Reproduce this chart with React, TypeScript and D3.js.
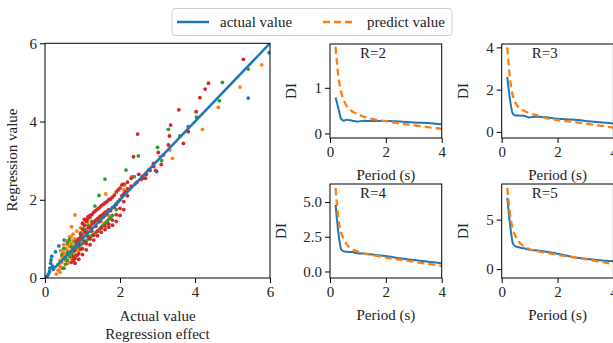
import React, { useEffect, useRef } from "react";
import * as d3 from "d3";

const W = 613;
const H = 343;
const FONT = "'Liberation Serif', 'Times New Roman', serif";
const BLUE = "#1f77b4";
const ORANGE = "#ff7f0e";
const GREEN = "#2ca02c";
const RED = "#d62728";

// scatter: [actual, regression]
const scatterBlue: [number, number][] = [
  [0.03, 0.02], [0.06, 0.05], [0.09, 0.1], [0.12, 0.16], [0.13, 0.25], [0.15, 0.38],
  [0.16, 0.46], [0.18, 0.55], [0.2, 0.3], [0.22, 0.22], [0.28, 0.67], [0.37, 0.82],
  [0.51, 0.97], [2.98, 2.72], [3.82, 3.87], [5.42, 4.6], [5.98, 5.76],
];
const scatterOrange: [number, number][] = [
  [0.3, 0.1], [0.35, 0.2], [0.4, 0.3], [0.45, 0.4], [0.5, 0.5], [0.55, 0.6], [0.6, 0.7],
  [0.65, 0.8], [0.7, 0.88], [0.75, 0.95], [0.8, 1.0], [0.35, 0.35], [0.4, 0.45],
  [0.45, 0.55], [0.5, 0.65], [0.55, 0.75], [0.6, 0.85], [0.65, 0.95], [0.7, 1.05],
  [0.75, 1.12], [0.85, 1.2], [0.95, 1.28], [1.05, 1.35], [0.4, 0.15], [0.5, 0.25],
  [0.6, 0.38], [0.7, 0.5], [0.8, 0.6], [0.9, 0.7], [1.5, 1.45], [1.7, 1.6], [1.9, 1.9],
  [0.45, 0.25], [0.55, 0.45], [0.65, 0.62], [0.72, 0.72], [0.78, 0.82], [0.88, 0.9],
  [1.0, 1.0], [1.1, 1.1], [1.2, 1.2], [1.35, 1.32], [0.42, 0.7], [0.5, 0.85], [0.58, 0.95],
  [0.65, 1.05],
  [2.1, 2.25], [0.8, 1.61], [0.71, 1.31], [1.14, 1.44], [1.62, 2.15], [2.13, 2.38],
  [2.27, 2.29], [2.31, 2.59], [3.07, 3.1], [3.33, 3.27], [3.4, 3.06], [4.2, 3.8],
  [4.62, 4.36], [5.2, 4.88], [5.78, 5.45],
];
const scatterGreen: [number, number][] = [
  [0.5, 0.25], [0.55, 0.35], [0.6, 0.45], [0.65, 0.55], [0.7, 0.62], [0.8, 0.72],
  [0.9, 0.8], [1.0, 0.88], [1.1, 0.95], [1.2, 1.02], [1.3, 1.1], [1.4, 1.2], [1.5, 1.3],
  [1.6, 1.4], [1.7, 1.5], [0.55, 0.5], [0.6, 0.65], [0.7, 0.8], [0.8, 0.92], [0.9, 1.0],
  [1.0, 1.1], [1.1, 1.2], [1.2, 1.3], [1.3, 1.42], [1.4, 1.5], [1.5, 1.55], [1.6, 1.6],
  [0.45, 0.6], [0.5, 0.75], [0.6, 0.9], [0.65, 0.98],
  [0.75, 0.68], [0.85, 0.78], [0.95, 0.85], [1.05, 0.93], [1.15, 1.0], [1.25, 1.08],
  [1.35, 1.16], [1.45, 1.25], [1.55, 1.35], [1.65, 1.45], [1.75, 1.55], [1.8, 1.6],
  [1.9, 1.75], [0.95, 1.15], [1.05, 1.25], [1.15, 1.35], [1.25, 1.45],
  [1.33, 1.84], [1.44, 2.11],
  [1.6, 2.53], [2.16, 2.76], [2.38, 2.59], [2.49, 3.12], [3.0, 3.34], [3.11, 3.0],
  [3.29, 3.8], [3.6, 3.63], [4.04, 4.11], [4.65, 4.53], [4.73, 5.0], [5.42, 5.34],
];
const scatterRed: [number, number][] = [
  [0.75, 0.55], [0.8, 0.7], [0.85, 0.85], [0.9, 1.0], [0.95, 1.12], [1.0, 1.25],
  [1.05, 1.35], [1.1, 1.45], [1.15, 1.52], [1.2, 1.56],
  [0.7, 0.4], [0.8, 0.5], [0.9, 0.62], [1.0, 0.75], [1.1, 0.88], [1.2, 1.0], [1.3, 1.1],
  [1.4, 1.2], [1.5, 1.28], [1.6, 1.33], [1.7, 1.38], [1.8, 1.48], [1.9, 1.62],
  [2.0, 1.78], [2.1, 1.95], [2.2, 2.1],
  [0.75, 0.45], [0.85, 0.58], [0.95, 0.74], [1.05, 0.92], [1.15, 1.07], [1.25, 1.2],
  [1.35, 1.32], [1.45, 1.44], [1.55, 1.55], [1.65, 1.64], [1.75, 1.72], [1.85, 1.82],
  [1.95, 1.95], [2.05, 2.1], [2.15, 2.2], [2.3, 2.35], [2.45, 2.45],
  [1.0, 1.4], [1.1, 1.5], [1.2, 1.6], [1.3, 1.68], [1.4, 1.76], [1.5, 1.85], [1.6, 1.92],
  [1.7, 2.0], [1.8, 2.07], [1.9, 2.2], [2.0, 2.3], [2.1, 2.4], [2.2, 2.45],
  [0.9, 0.85], [1.0, 1.0], [1.1, 1.15], [1.2, 1.3], [1.3, 1.42], [1.4, 1.52], [1.5, 1.6],
  [1.6, 1.68], [1.7, 1.75], [1.8, 1.8], [1.9, 1.88], [2.0, 2.0], [2.1, 2.15], [2.2, 2.28],
  [2.4, 2.4], [2.6, 2.6], [2.8, 2.75],
  [0.8, 0.38], [0.9, 0.48], [1.0, 0.6], [1.1, 0.72], [1.2, 0.85], [1.3, 0.97], [1.4, 1.08],
  [1.5, 1.17], [1.6, 1.24], [1.7, 1.3], [1.8, 1.35], [1.9, 1.45], [2.0, 1.6], [2.1, 1.75],
  [0.85, 0.95], [0.95, 1.05], [1.05, 1.18], [1.15, 1.28], [1.25, 1.38], [1.35, 1.47],
  [1.45, 1.56], [1.55, 1.63], [1.65, 1.7],
  [1.05, 1.5], [1.15, 1.57], [1.25, 1.62], [1.35, 1.72], [1.45, 1.8], [1.55, 1.88],
  [1.65, 1.95], [1.75, 2.02], [1.85, 2.12], [1.95, 2.25], [2.05, 2.38],
  [2.3, 2.55], [2.5, 2.65], [2.6, 2.55], [2.7, 2.65], [2.9, 2.85], [2.95, 2.75], [3.1, 2.9],
  [2.56, 2.52], [2.68, 2.55], [2.76, 2.76], [2.89, 2.93], [3.02, 3.21], [3.16, 3.15],
  [3.29, 3.4], [3.69, 3.44], [3.82, 3.74], [2.36, 3.1], [2.47, 3.68], [3.32, 3.63],
  [3.35, 3.91], [3.57, 4.3], [4.03, 4.25], [4.13, 4.61], [4.27, 4.83], [4.36, 4.98],
  [5.29, 5.59],
];
const regLine: number[] = [0.25, 6];

// DI panels
const periods = [0.2, 0.3, 0.4, 0.5, 0.6, 0.8, 1.0, 1.2, 1.5, 2.0, 2.5, 3.0, 3.5, 4.0];
const actualR2 = [0.79, 0.55, 0.32, 0.28, 0.3, 0.28, 0.26, 0.28, 0.27, 0.27, 0.26, 0.24, 0.23, 0.2];
const predictR2 = [1.9, 1.25, 0.9, 0.72, 0.6, 0.48, 0.42, 0.37, 0.32, 0.27, 0.22, 0.18, 0.14, 0.1];
const actualR3 = [2.6, 1.5, 0.85, 0.77, 0.78, 0.76, 0.68, 0.72, 0.7, 0.62, 0.58, 0.52, 0.45, 0.4];
const predictR3 = [4.0, 2.5, 1.7, 1.35, 1.17, 1.0, 0.88, 0.8, 0.68, 0.56, 0.48, 0.4, 0.3, 0.2];
const actualR4 = [4.8, 2.8, 1.6, 1.45, 1.42, 1.4, 1.3, 1.3, 1.22, 1.12, 0.95, 0.82, 0.7, 0.6];
const predictR4 = [6.0, 3.8, 2.8, 2.3, 1.95, 1.6, 1.42, 1.3, 1.18, 1.0, 0.85, 0.7, 0.55, 0.4];
const actualR5 = [7.2, 4.5, 2.6, 2.3, 2.2, 2.1, 1.95, 1.9, 1.8, 1.55, 1.25, 1.05, 0.9, 0.8];
const predictR5 = [8.2, 5.5, 4.0, 3.3, 2.8, 2.3, 2.0, 1.85, 1.7, 1.45, 1.2, 1.0, 0.75, 0.5];
const panelNames = ["R=2", "R=3", "R=4", "R=5"];
const panelTicks = [[0, 1], [0, 2, 4], [0, 2.5, 5], [0, 5]];
const periodTicks = [0, 2, 4];
const scatterTicks = [0, 2, 4, 6];

const App = () => {
  const ref = useRef<SVGSVGElement>(null);

  useEffect(() => {
    draw();
  });

  const styleAxis = (g: any) => {
    g.attr("font-family", null).attr("font-size", null);
    g.select(".domain").remove();
    g.selectAll(".tick line").attr("stroke", "#000").attr("stroke-width", 1);
    g.selectAll(".tick text")
      .attr("fill", "#222")
      .style("font-family", FONT)
      .style("font-size", "15px");
  };

  const draw = () => {
    const svg = d3.select(ref.current);
    svg.selectAll("*").remove();
    svg.append("rect").attr("width", W).attr("height", H).attr("fill", "#fff");

    // ---- scatter ----
    const x = d3.scaleLinear().domain([0, 6]).range([45, 270]);
    const y = d3.scaleLinear().domain([0, 6]).range([278, 43.3]);
    const sc = svg.append("g");
    sc.append("clipPath").attr("id", "clipSc").append("rect")
      .attr("x", 45).attr("y", 43.3).attr("width", 225).attr("height", 234.7);
    const dots = sc.append("g").attr("clip-path", "url(#clipSc)");
    const series: [[number, number][], string][] = [
      [scatterBlue, BLUE], [scatterOrange, ORANGE], [scatterGreen, GREEN], [scatterRed, RED],
    ];
    series.forEach(([pts, c]) => {
      dots.selectAll(null).data(pts).enter().append("circle")
        .attr("cx", (d) => x(d[0])).attr("cy", (d) => y(d[1]))
        .attr("r", 1.9).attr("fill", c);
    });
    dots.append("line")
      .attr("x1", x(regLine[0])).attr("y1", y(regLine[0]))
      .attr("x2", x(regLine[1])).attr("y2", y(regLine[1]))
      .attr("stroke", BLUE).attr("stroke-width", 2.5);
    sc.append("g").attr("transform", "translate(0,278)")
      .call(d3.axisBottom(x).tickValues(scatterTicks).tickSize(5).tickPadding(3).tickFormat(d3.format("d")))
      .call(styleAxis);
    sc.append("g").attr("transform", "translate(45,0)")
      .call(d3.axisLeft(y).tickValues(scatterTicks).tickSize(5).tickPadding(3).tickFormat(d3.format("d")))
      .call(styleAxis);
    sc.append("rect").attr("x", 45).attr("y", 43.3).attr("width", 225).attr("height", 234.7)
      .attr("fill", "none").attr("stroke", "#000").attr("stroke-width", 1);
    const lab = (t: string, lx: number, ly: number, rot = 0) =>
      svg.append("text").attr("transform", `translate(${lx},${ly}) rotate(${rot})`)
        .attr("text-anchor", "middle").style("font-family", FONT).style("font-size", "15px")
        .attr("fill", "#222").text(t);
    lab("Actual value", 157.5, 321);
    lab("Regression effect", 157.5, 339);
    lab("Regression value", 17, 160, -90);

    // ---- DI panels ----
    const actual = [actualR2, actualR3, actualR4, actualR5];
    const predict = [predictR2, predictR3, predictR4, predictR5];
    const domains = [[-0.1, 1.96], [-0.29, 4.16], [-0.47, 6.3], [-0.9, 8.6]];
    const lefts = [330, 501.7, 330, 501.7];
    const tops = [44, 44, 184, 184];
    const pw = 111.7;
    const ph = 94;
    const diLabelX = [296, 468, 286, 468];
    const labels: [string, number, number, number][] = [];
    panelNames.forEach((name, i) => {
      const g = svg.append("g");
      const px = d3.scaleLinear().domain([0, 4]).range([lefts[i], lefts[i] + pw]);
      const py = d3.scaleLinear().domain(domains[i]).range([tops[i] + ph, tops[i]]);
      g.append("clipPath").attr("id", "clipP" + i).append("rect")
        .attr("x", lefts[i]).attr("y", tops[i]).attr("width", pw).attr("height", ph);
      const lines = g.append("g").attr("clip-path", `url(#clipP${i})`);
      const line = d3.line<number>().x((_, k) => px(periods[k])).y((d) => py(d)).curve(d3.curveMonotoneX);
      lines.append("path").attr("d", line(actual[i])).attr("fill", "none")
        .attr("stroke", BLUE).attr("stroke-width", 2);
      lines.append("path").attr("d", line(predict[i])).attr("fill", "none")
        .attr("stroke", ORANGE).attr("stroke-width", 2.3).attr("stroke-dasharray", "7,4");
      const fmt = i === 2 ? d3.format(".1f") : d3.format("d");
      g.append("g").attr("transform", `translate(0,${tops[i] + ph})`)
        .call(d3.axisBottom(px).tickValues(periodTicks).tickSize(5).tickPadding(3).tickFormat(d3.format("d")))
        .call(styleAxis);
      g.append("g").attr("transform", `translate(${lefts[i]},0)`)
        .call(d3.axisLeft(py).tickValues(panelTicks[i]).tickSize(5).tickPadding(3).tickFormat(fmt as any))
        .call(styleAxis);
      g.append("rect").attr("x", lefts[i]).attr("y", tops[i]).attr("width", pw).attr("height", ph)
        .attr("fill", "none").attr("stroke", "#000").attr("stroke-width", 1);
      g.append("text").attr("x", lefts[i] + 30).attr("y", tops[i] + 14)
        .style("font-family", FONT).style("font-size", "15px").attr("fill", "#222").text(name);
      labels.push(["Period (s)", lefts[i] + pw / 2, tops[i] + ph + 42, 0]);
      labels.push(["DI", diLabelX[i], tops[i] + ph / 2, -90]);
    });
    labels.forEach(([t, lx, ly, r]) => lab(t, lx, ly, r));

    // ---- legend ----
    const lg = svg.append("g");
    lg.append("rect").attr("x", 172).attr("y", 8.5).attr("width", 280).attr("height", 27)
      .attr("rx", 3).attr("fill", "#fff").attr("fill-opacity", 0.85)
      .attr("stroke", "#ccc").attr("stroke-width", 1);
    lg.append("line").attr("x1", 177).attr("x2", 209).attr("y1", 22).attr("y2", 22)
      .attr("stroke", BLUE).attr("stroke-width", 2.5);
    lg.append("line").attr("x1", 323).attr("x2", 355).attr("y1", 22).attr("y2", 22)
      .attr("stroke", ORANGE).attr("stroke-width", 2.5).attr("stroke-dasharray", "7,4");
    [["actual value", 220], ["predict value", 367]].forEach(([t, lx]) => {
      lg.append("text").attr("x", lx as number).attr("y", 27)
        .style("font-family", FONT).style("font-size", "15px").attr("fill", "#222").text(t as string);
    });
  };

  return (
    <svg ref={ref} width={W} height={H} style={{ position: "absolute", left: 0, top: 0 }} />
  );
};

export default App;
